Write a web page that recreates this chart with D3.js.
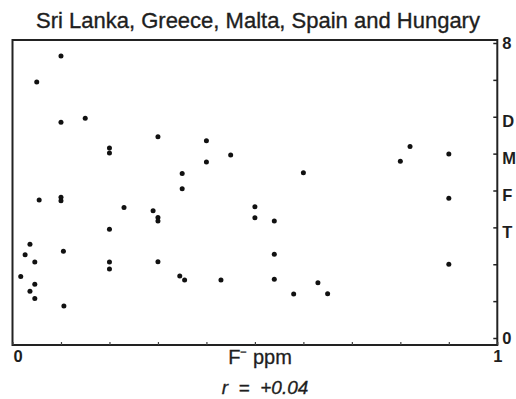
<!DOCTYPE html>
<html><head><meta charset="utf-8">
<script src="https://cdn.jsdelivr.net/npm/d3@7"></script>
<style>
body{margin:0;background:#fff}
svg{display:block}
text{font-family:"Liberation Sans",Arial,sans-serif;fill:#1e1e1e}
</style>
</head><body>
<svg id="chart" width="516" height="399"></svg>
<script>
const title = "Sri Lanka, Greece, Malta, Spain and Hungary";
const xTitle = "F\u207B ppm";
const rLabel = "r  =  +0.04";

// fluoride (ppm) per point
const fluoride = [0.10,0.05,0.10,0.15,0.20,0.20,0.30,0.40,0.82,0.90,
  0.45,0.80,0.40,0.35,0.60,0.35,0.055,0.10,0.10,0.90,
  0.23,0.29,0.30,0.30,0.50,0.50,0.54,0.20,0.036,0.026,
  0.046,0.105,0.20,0.20,0.30,0.54,0.90,0.017,0.046,0.036,
  0.046,0.106,0.345,0.355,0.43,0.54,0.58,0.63,0.65];
// caries index per point
const caries = [7.65,6.94,5.85,5.96,5.15,5.02,5.46,5.35,5.19,4.99,
  4.96,4.79,4.77,4.46,4.48,4.05,3.74,3.82,3.72,3.79,
  3.54,3.45,3.27,3.17,3.56,3.26,3.17,2.95,2.54,2.26,
  2.06,2.35,2.06,1.87,2.07,2.27,2.00,1.67,1.46,1.27,
  1.07,0.87,1.68,1.57,1.57,1.59,1.19,1.50,1.20];

const xTicks = [0,0.1,0.2,0.3,0.4,0.5,0.6,0.7,0.8,0.9,1];
const xLabelValues = [0,1];
const xLabelTexts = ["0","1"];
const yTicks = [0,1,2,3,4,5,6,7,8];
const yLabelValues = [8,6,5,4,3,0];
const yLabelTexts = ["8","D","M","F","T","0"];

(function(){
const svg = d3.select("#chart");
const pLeft = 12.5, pRight = 497.3, pTop = 40, pBottom = 345;
const x = d3.scaleLinear().domain([0,1]).range([pLeft,pRight]);
const y = d3.scaleLinear().domain([0,8]).range([338,43]);

// title
svg.append("text").attr("x",258).attr("y",28).attr("text-anchor","middle")
  .attr("font-size",22).attr("stroke","#1e1e1e").attr("stroke-width",0.35).text(title);

// frame
svg.append("rect").attr("x",pLeft).attr("y",pTop).attr("width",pRight-pLeft).attr("height",pBottom-pTop)
  .attr("fill","none").attr("stroke","#222").attr("stroke-width",2);

// right ticks (inward)
const rt = svg.append("g").attr("transform",`translate(${pRight},0)`)
  .call(d3.axisLeft(y).tickValues(yTicks).tickSizeInner(4).tickSizeOuter(0).tickFormat(""));
rt.select(".domain").remove();
rt.selectAll("line").attr("stroke","#222").attr("stroke-width",1.5);

// right labels
const rl = svg.append("g").attr("transform",`translate(${pRight},0)`)
  .call(d3.axisRight(y).tickValues(yLabelValues).tickSize(0).tickPadding(5)
    .tickFormat(d => yLabelTexts[yLabelValues.indexOf(d)]));
rl.select(".domain").remove();
rl.selectAll("text").attr("font-size",16.5).attr("font-weight","bold")
  .attr("font-family","\"Liberation Sans\",Arial,sans-serif").attr("fill","#1e1e1e")
  .attr("dy", d => /[A-Z]/.test(yLabelTexts[yLabelValues.indexOf(d)]) ? "0.62em" : "0.32em");

// bottom ticks (inward)
const bt = svg.append("g").attr("transform",`translate(0,${pBottom})`)
  .call(d3.axisTop(x).tickValues(xTicks).tickSizeInner(3).tickSizeOuter(0).tickFormat(""));
bt.select(".domain").remove();
bt.selectAll("line").attr("stroke","#444").attr("stroke-width",1.2);

// bottom labels
const bl = svg.append("g").attr("transform",`translate(0,${pBottom})`)
  .call(d3.axisBottom(x).tickValues(xLabelValues).tickSize(0).tickPadding(5)
    .tickFormat(d => xLabelTexts[xLabelValues.indexOf(d)]));
bl.select(".domain").remove();
bl.selectAll("text").attr("font-size",16.5).attr("font-weight","bold")
  .attr("font-family","\"Liberation Sans\",Arial,sans-serif").attr("fill","#1e1e1e")
  .attr("dx", d => d === 0 ? 5 : 0);

// axis title
svg.append("text").attr("x",260).attr("y",364).attr("text-anchor","middle")
  .attr("font-size",20).attr("stroke","#1e1e1e").attr("stroke-width",0.3)
  .style("white-space","pre").text(xTitle);
svg.append("text").attr("x",265).attr("y",394).attr("text-anchor","middle")
  .attr("font-size",19).attr("font-style","italic").attr("stroke","#1e1e1e").attr("stroke-width",0.3)
  .style("white-space","pre").text(rLabel);

// points
svg.append("g").selectAll("circle").data(fluoride.map((f,i)=>[f,caries[i]])).join("circle")
  .attr("cx",d=>x(d[0])).attr("cy",d=>y(d[1])).attr("r",2.5).attr("fill","#111");
})();
</script>
</body></html>
